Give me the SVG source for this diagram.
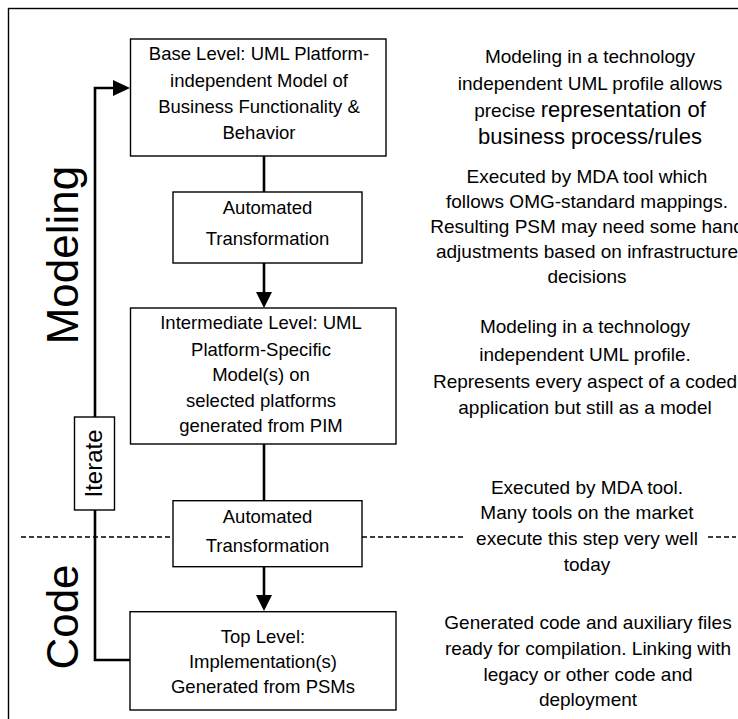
<svg xmlns="http://www.w3.org/2000/svg" width="738" height="719" viewBox="0 0 738 719">
  <style>
    .box { fill: #ffffff; stroke: #000000; stroke-width: 1.4; }
    .frame { fill: none; stroke: #000000; stroke-width: 1.4; }
    .wire { fill: none; stroke: #000000; stroke-width: 2.6; }
    .head { fill: #000000; stroke: none; }
    .sep { fill: none; stroke: #000000; stroke-width: 1.5; stroke-dasharray: 5 3; }
    .t { font-family: "Liberation Sans", Arial, sans-serif; font-size: 18.5px; fill: #000000; text-anchor: middle; }
    .note { font-family: "Liberation Sans", Arial, sans-serif; font-size: 19px; fill: #000000; text-anchor: middle; }
    .big { font-size: 22px; }
    .side { font-family: "Liberation Sans", Arial, sans-serif; font-size: 44px; fill: #000000; text-anchor: middle; }
    .iter { font-family: "Liberation Sans", Arial, sans-serif; font-size: 24px; fill: #000000; text-anchor: middle; }
  </style>

  <!-- outer frame (open to the right and bottom) -->
  <rect class="frame" x="8.5" y="8.5" width="760" height="760"/>

  <!-- modeling / code divider -->
  <g id="divider">
    <line class="sep" x1="21" y1="537" x2="173" y2="537"/>
    <line class="sep" x1="362" y1="537" x2="466" y2="537"/>
    <line class="sep" x1="708" y1="537" x2="736" y2="537"/>
  </g>

  <!-- side labels -->
  <text class="side" transform="translate(78,255) rotate(-90)">Modeling</text>
  <text class="side" transform="translate(78,617) rotate(-90)">Code</text>

  <!-- connectors -->
  <g id="connectors">
    <line class="wire" x1="264" y1="156" x2="264" y2="192"/>
    <line class="wire" x1="264" y1="263" x2="264" y2="293"/>
    <polygon class="head" points="256,292 272,292 264,308"/>
    <line class="wire" x1="264" y1="444" x2="264" y2="501"/>
    <line class="wire" x1="264" y1="567" x2="264" y2="596"/>
    <polygon class="head" points="256,595 272,595 264,611"/>
    <polyline class="wire" points="130,660 95,660 95,88 114,88"/>
    <polygon class="head" points="113,80 130,88 113,96"/>
  </g>

  <g id="iterate">
    <rect class="box" x="74.5" y="417" width="40" height="93"/>
    <text class="iter" transform="translate(102,463.5) rotate(-90)">Iterate</text>
  </g>

  <g id="base-level">
    <rect class="box" x="130.5" y="39" width="255.5" height="117"/>
    <text class="t" x="259" y="60">Base Level: UML Platform-</text>
    <text class="t" x="259" y="86.5">independent Model of</text>
    <text class="t" x="259" y="113">Business Functionality &amp;</text>
    <text class="t" x="259" y="139">Behavior</text>
  </g>

  <g id="transform-1">
    <rect class="box" x="173" y="192" width="189" height="71"/>
    <text class="t" x="267.5" y="213.5">Automated</text>
    <text class="t" x="267.5" y="244.5">Transformation</text>
  </g>

  <g id="intermediate-level">
    <rect class="box" x="130.5" y="308" width="265.5" height="136"/>
    <text class="t" x="261" y="329">Intermediate Level: UML</text>
    <text class="t" x="261" y="355.5">Platform-Specific</text>
    <text class="t" x="261" y="381">Model(s) on</text>
    <text class="t" x="261" y="406.5">selected platforms</text>
    <text class="t" x="261" y="432">generated from PIM</text>
  </g>

  <g id="transform-2">
    <rect class="box" x="173" y="500.7" width="189" height="66"/>
    <text class="t" x="267.5" y="522.7">Automated</text>
    <text class="t" x="267.5" y="552.3">Transformation</text>
  </g>

  <g id="top-level">
    <rect class="box" x="130" y="611.7" width="266" height="98.3"/>
    <text class="t" x="263" y="643">Top Level:</text>
    <text class="t" x="263" y="668">Implementation(s)</text>
    <text class="t" x="263" y="693">Generated from PSMs</text>
  </g>

  <!-- explanatory notes -->
  <g id="note-pim">
    <text class="note" x="590" y="63">Modeling in a technology</text>
    <text class="note" x="590" y="89.5">independent UML profile allows</text>
    <text class="note" x="590" y="117">precise <tspan class="big">representation of</tspan></text>
    <text class="note big" x="590" y="144">business process/rules</text>
  </g>

  <g id="note-transform-1">
    <text class="note" x="587" y="183">Executed by MDA tool which</text>
    <text class="note" x="587" y="208">follows OMG-standard mappings.</text>
    <text class="note" x="587" y="233">Resulting PSM may need some hand</text>
    <text class="note" x="587" y="258">adjustments based on infrastructure</text>
    <text class="note" x="587" y="283">decisions</text>
  </g>

  <g id="note-psm">
    <text class="note" x="585" y="333">Modeling in a technology</text>
    <text class="note" x="585" y="360.5">independent UML profile.</text>
    <text class="note" x="585" y="388">Represents every aspect of a coded</text>
    <text class="note" x="585" y="414">application but still as a model</text>
  </g>

  <g id="note-transform-2">
    <text class="note" x="587" y="494">Executed by MDA tool.</text>
    <text class="note" x="587" y="519">Many tools on the market</text>
    <text class="note" x="587" y="545">execute this step very well</text>
    <text class="note" x="587" y="571">today</text>
  </g>

  <g id="note-code">
    <text class="note" x="588" y="629">Generated code and auxiliary files</text>
    <text class="note" x="588" y="655">ready for compilation. Linking with</text>
    <text class="note" x="588" y="681">legacy or other code and</text>
    <text class="note" x="588" y="706">deployment</text>
  </g>
</svg>
